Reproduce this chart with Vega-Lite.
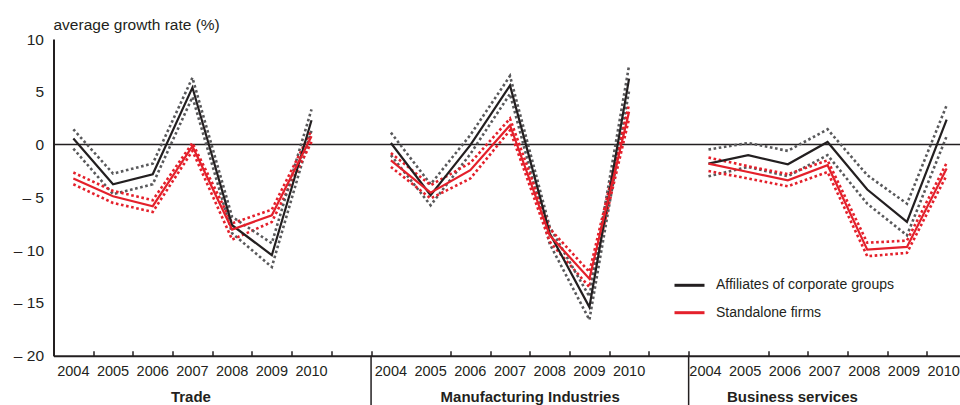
{
  "$schema": "https://vega.github.io/schema/vega-lite/v6.json",
  "width": 906.5,
  "height": 316.7,
  "autosize": "none",
  "padding": {"left": 53.5, "top": 39, "right": 0, "bottom": 49.3},
  "config": {
    "font": "Liberation Sans",
    "view": {"stroke": null},
    "axis": {"labelColor": "#231f20", "titleColor": "#231f20"}
  },
  "data": {"values": [
    {"period": "Trade|2004", "sector": "Trade", "series": "Affiliates of corporate groups", "mean": 0.57, "hi": 1.45, "lo": -0.38},
    {"period": "Trade|2005", "sector": "Trade", "series": "Affiliates of corporate groups", "mean": -3.76, "hi": -2.75, "lo": -4.7},
    {"period": "Trade|2006", "sector": "Trade", "series": "Affiliates of corporate groups", "mean": -2.81, "hi": -1.8, "lo": -3.76},
    {"period": "Trade|2007", "sector": "Trade", "series": "Affiliates of corporate groups", "mean": 5.4, "hi": 6.34, "lo": 4.5},
    {"period": "Trade|2008", "sector": "Trade", "series": "Affiliates of corporate groups", "mean": -7.64, "hi": -6.85, "lo": -8.4},
    {"period": "Trade|2009", "sector": "Trade", "series": "Affiliates of corporate groups", "mean": -10.48, "hi": -9.35, "lo": -11.6},
    {"period": "Trade|2010", "sector": "Trade", "series": "Affiliates of corporate groups", "mean": 2.3, "hi": 3.34, "lo": 1.35},
    {"period": "Trade|2004", "sector": "Trade", "series": "Standalone firms", "mean": -3.22, "hi": -2.65, "lo": -3.76},
    {"period": "Trade|2005", "sector": "Trade", "series": "Standalone firms", "mean": -4.9, "hi": -4.39, "lo": -5.53},
    {"period": "Trade|2006", "sector": "Trade", "series": "Standalone firms", "mean": -5.84, "hi": -5.27, "lo": -6.38},
    {"period": "Trade|2007", "sector": "Trade", "series": "Standalone firms", "mean": -0.16, "hi": 0.15, "lo": -0.6},
    {"period": "Trade|2008", "sector": "Trade", "series": "Standalone firms", "mean": -8.05, "hi": -7.46, "lo": -9.0},
    {"period": "Trade|2009", "sector": "Trade", "series": "Standalone firms", "mean": -6.7, "hi": -6.16, "lo": -7.33},
    {"period": "Trade|2010", "sector": "Trade", "series": "Standalone firms", "mean": 0.79, "hi": 1.35, "lo": 0.25},
    {"period": "Manufacturing Industries|2004", "sector": "Manufacturing Industries", "series": "Affiliates of corporate groups", "mean": 0.15, "hi": 1.13, "lo": -1.0},
    {"period": "Manufacturing Industries|2005", "sector": "Manufacturing Industries", "series": "Affiliates of corporate groups", "mean": -4.8, "hi": -3.76, "lo": -5.75},
    {"period": "Manufacturing Industries|2006", "sector": "Manufacturing Industries", "series": "Affiliates of corporate groups", "mean": -0.05, "hi": 0.9, "lo": -0.9},
    {"period": "Manufacturing Industries|2007", "sector": "Manufacturing Industries", "series": "Affiliates of corporate groups", "mean": 5.6, "hi": 6.5, "lo": 4.8},
    {"period": "Manufacturing Industries|2008", "sector": "Manufacturing Industries", "series": "Affiliates of corporate groups", "mean": -8.4, "hi": -7.8, "lo": -9.4},
    {"period": "Manufacturing Industries|2009", "sector": "Manufacturing Industries", "series": "Affiliates of corporate groups", "mean": -15.4, "hi": -14.4, "lo": -16.6},
    {"period": "Manufacturing Industries|2010", "sector": "Manufacturing Industries", "series": "Affiliates of corporate groups", "mean": 6.25, "hi": 7.5, "lo": 5.1},
    {"period": "Manufacturing Industries|2004", "sector": "Manufacturing Industries", "series": "Standalone firms", "mean": -1.5, "hi": -0.8, "lo": -2.12},
    {"period": "Manufacturing Industries|2005", "sector": "Manufacturing Industries", "series": "Standalone firms", "mean": -4.55, "hi": -3.85, "lo": -5.1},
    {"period": "Manufacturing Industries|2006", "sector": "Manufacturing Industries", "series": "Standalone firms", "mean": -2.43, "hi": -1.74, "lo": -3.22},
    {"period": "Manufacturing Industries|2007", "sector": "Manufacturing Industries", "series": "Standalone firms", "mean": 1.83, "hi": 2.46, "lo": 1.35},
    {"period": "Manufacturing Industries|2008", "sector": "Manufacturing Industries", "series": "Standalone firms", "mean": -8.6, "hi": -7.96, "lo": -9.2},
    {"period": "Manufacturing Industries|2009", "sector": "Manufacturing Industries", "series": "Standalone firms", "mean": -12.7, "hi": -12.06, "lo": -13.5},
    {"period": "Manufacturing Industries|2010", "sector": "Manufacturing Industries", "series": "Standalone firms", "mean": 3.1, "hi": 3.82, "lo": 2.46},
    {"period": "Business services|2004", "sector": "Business services", "series": "Affiliates of corporate groups", "mean": -1.8, "hi": -0.47, "lo": -3.0},
    {"period": "Business services|2005", "sector": "Business services", "series": "Affiliates of corporate groups", "mean": -1.01, "hi": 0.15, "lo": -2.12},
    {"period": "Business services|2006", "sector": "Business services", "series": "Affiliates of corporate groups", "mean": -1.87, "hi": -0.6, "lo": -3.0},
    {"period": "Business services|2007", "sector": "Business services", "series": "Affiliates of corporate groups", "mean": 0.25, "hi": 1.45, "lo": -1.0},
    {"period": "Business services|2008", "sector": "Business services", "series": "Affiliates of corporate groups", "mean": -4.26, "hi": -2.9, "lo": -5.6},
    {"period": "Business services|2009", "sector": "Business services", "series": "Affiliates of corporate groups", "mean": -7.33, "hi": -5.6, "lo": -8.6},
    {"period": "Business services|2010", "sector": "Business services", "series": "Affiliates of corporate groups", "mean": 2.37, "hi": 3.72, "lo": 0.79},
    {"period": "Business services|2004", "sector": "Business services", "series": "Standalone firms", "mean": -1.8, "hi": -1.23, "lo": -2.5},
    {"period": "Business services|2005", "sector": "Business services", "series": "Standalone firms", "mean": -2.6, "hi": -2.05, "lo": -3.22},
    {"period": "Business services|2006", "sector": "Business services", "series": "Standalone firms", "mean": -3.38, "hi": -2.81, "lo": -3.95},
    {"period": "Business services|2007", "sector": "Business services", "series": "Standalone firms", "mean": -1.96, "hi": -1.49, "lo": -2.6},
    {"period": "Business services|2008", "sector": "Business services", "series": "Standalone firms", "mean": -9.95, "hi": -9.3, "lo": -10.58},
    {"period": "Business services|2009", "sector": "Business services", "series": "Standalone firms", "mean": -9.7, "hi": -9.1, "lo": -10.26},
    {"period": "Business services|2010", "sector": "Business services", "series": "Standalone firms", "mean": -2.27, "hi": -1.74, "lo": -2.9}
  ]},
  "layer": [
    {
      "data": {"values": [{"period": "Manufacturing Industries|2004"}, {"period": "Business services|2004"}]},
      "mark": {"type": "rule", "color": "#231f20", "strokeWidth": 1.5},
      "encoding": {
        "x": {"field": "period", "type": "ordinal", "bandPosition": 0, "axis": null,
          "scale": {"type": "band", "range": [0, 913], "paddingInner": 0, "paddingOuter": 0,
            "domain": ["Trade|2004", "Trade|2005", "Trade|2006", "Trade|2007", "Trade|2008", "Trade|2009", "Trade|2010", "Trade|",
              "Manufacturing Industries|2004", "Manufacturing Industries|2005", "Manufacturing Industries|2006", "Manufacturing Industries|2007", "Manufacturing Industries|2008", "Manufacturing Industries|2009", "Manufacturing Industries|2010", "Manufacturing Industries|",
              "Business services|2004", "Business services|2005", "Business services|2006", "Business services|2007", "Business services|2008", "Business services|2009", "Business services|2010"]}},
        "y": {"datum": -20, "type": "quantitative", "title": "average growth rate (%)"},
        "y2": {"datum": -24.8}
      }
    },
    {
      "data": {"values": [{"zero": 0}]},
      "mark": {"type": "rule", "color": "#231f20", "strokeWidth": 1.5},
      "encoding": {
        "y": {"field": "zero", "type": "quantitative", "title": "average growth rate (%)"}
      }
    },
    {
      "mark": {"type": "line", "strokeWidth": 2.6, "strokeDash": [2.6, 2.6]},
      "encoding": {
        "x": {"field": "period", "type": "ordinal", "axis": null},
        "y": {"field": "lo", "type": "quantitative", "title": "average growth rate (%)"},
        "detail": [{"field": "sector"}, {"field": "series"}],
        "color": {"condition": {"test": "datum.series == 'Affiliates of corporate groups'", "value": "#59595b"}, "value": "#e4202b"}
      }
    },
    {
      "mark": {"type": "line", "strokeWidth": 2.6, "strokeDash": [2.6, 2.6]},
      "encoding": {
        "x": {"field": "period", "type": "ordinal",
          "axis": {"orient": "bottom", "values": ["Trade|2007", "Manufacturing Industries|2008", "Business services|2006"],
            "labelExpr": "split(datum.value, '|')[0]", "ticks": false, "domain": false, "grid": false,
            "labelFontWeight": "bold", "labelFontSize": 15, "labelBaseline": "alphabetic", "labelPadding": 45.5,
            "labelAngle": 0, "labelOverlap": false, "labelBound": false, "labelFlush": false, "labelLimit": 400, "title": null,
            "labelOffset": {"condition": [{"test": "datum.value == 'Manufacturing Industries|2008'", "value": -19.5}, {"test": "datum.value == 'Business services|2006'", "value": 4.5}], "value": -1.5}}},
        "y": {"field": "hi", "type": "quantitative", "title": "average growth rate (%)"},
        "detail": [{"field": "sector"}, {"field": "series"}],
        "color": {"condition": {"test": "datum.series == 'Affiliates of corporate groups'", "value": "#59595b"}, "value": "#e4202b"}
      }
    },
    {
      "mark": {"type": "line", "strokeWidth": 2.2},
      "encoding": {
        "x": {"field": "period", "type": "ordinal",
          "axis": {"orient": "bottom", "labelExpr": "split(datum.value, '|')[1]", "tickBand": "extent",
            "tickSize": -5, "tickColor": "#231f20", "tickWidth": 1.5,
            "tickOpacity": {"condition": {"test": "datum.value == 'Manufacturing Industries|2004' || datum.value == 'Business services|2004'", "value": 0}, "value": 1},
            "labelOffset": {"condition": {"test": "isString(datum.value) && indexof(datum.value, 'Business') == 0", "value": -3.5}, "value": -0.5},
            "domainColor": "#231f20", "domainWidth": 2, "labelFontSize": 14.5, "labelBaseline": "alphabetic",
            "labelPadding": 25, "labelAngle": 0, "labelOverlap": false, "labelBound": false, "labelFlush": false,
            "grid": false, "title": null}},
        "y": {"field": "mean", "type": "quantitative", "title": "average growth rate (%)",
          "scale": {"domain": [-20, 10], "nice": false, "zero": false},
          "axis": {"values": [-20, -15, -10, -5, 0, 5, 10],
            "labelExpr": "datum.value < 0 ? '\u2013 ' + abs(datum.value) : '' + datum.value",
            "ticks": false, "domainColor": "#231f20", "domainWidth": 2, "gridColor": "#bdbdbd", "gridWidth": 1.5,
            "labelFontSize": 15.5, "labelPadding": 10,
            "titleAngle": 0, "titleAlign": "left", "titleBaseline": "alphabetic", "titleX": -0.5, "titleY": -10,
            "titleFontWeight": "normal", "titleFontSize": 15.5}},
        "detail": {"field": "sector"},
        "color": {"field": "series", "type": "nominal",
          "scale": {"domain": ["Affiliates of corporate groups", "Standalone firms"], "range": ["#231f20", "#e4202b"]},
          "legend": {"title": null, "orient": "none", "legendX": 615.5, "legendY": 225.8, "symbolType": "stroke",
            "symbolSize": 900, "symbolStrokeWidth": 3, "labelFontSize": 14, "labelColor": "#231f20",
            "labelOffset": 10, "rowPadding": 3.4, "fillColor": "white", "padding": 4, "labelLimit": 400}}
      }
    }
  ],
  "resolve": {"axis": {"x": "independent"}}
}
